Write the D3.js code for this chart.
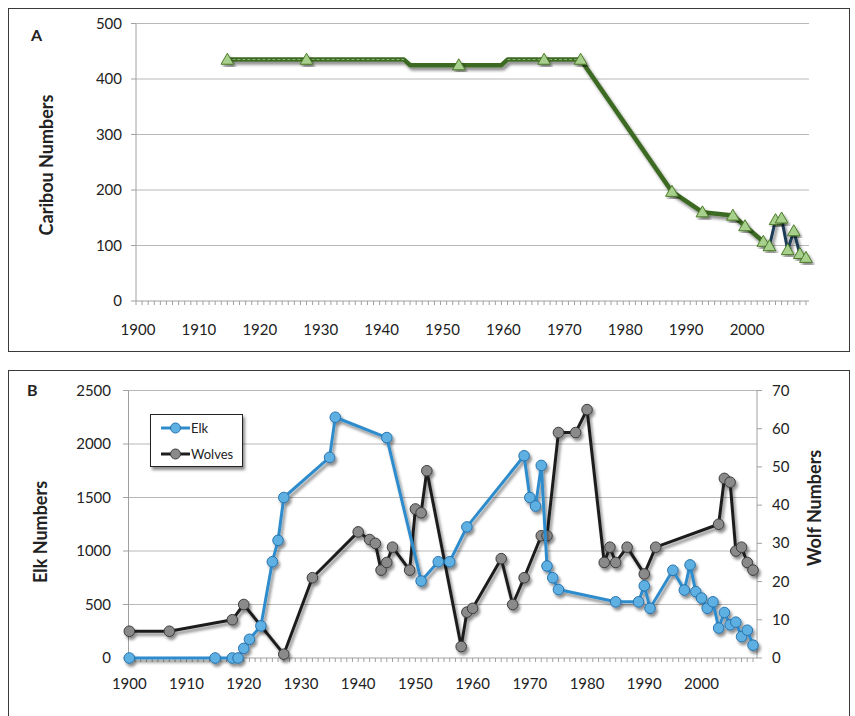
<!DOCTYPE html>
<html>
<head>
<meta charset="utf-8">
<script src="https://cdn.jsdelivr.net/npm/d3@7"></script>
<style>
  body { margin: 0; background: #fff; }
  svg text { font-family: Lato, "Open Sans", sans-serif; fill: #222; }
  .tick-lbl { font-size: 15px; }
  .ax-title { font-size: 18px; font-weight: bold; }
  .panel-lbl { font-size: 16px; font-weight: bold; }
</style>
</head>
<body>
<svg id="chart" width="855" height="716"></svg>
<script>
// ---- panel A: caribou ----
var caribouYears = [1915, 1928, 1944, 1945, 1953, 1960, 1961, 1967, 1973, 1988, 1993, 1998, 2000, 2003, 2004, 2005, 2006, 2007, 2008, 2009, 2010];
var caribouVals  = [435, 435, 435, 425, 425, 425, 435, 435, 435, 197, 160, 154, 135, 107, 99, 146, 149, 92, 126, 85, 78];
// years that carry a survey marker
var caribouMarkYears = [1915, 1928, 1953, 1967, 1973, 1988, 1993, 1998, 2000, 2003, 2004, 2005, 2006, 2007, 2008, 2009, 2010];
var caribouTicks = [0, 100, 200, 300, 400, 500];

// ---- panel B: elk and wolves ----
var elkYears = [1900, 1915, 1918, 1919, 1920, 1921, 1923, 1925, 1926, 1927, 1935, 1936, 1945, 1951, 1954, 1956, 1959, 1969, 1970, 1971, 1972, 1973, 1974, 1975, 1985, 1989, 1990, 1991, 1995, 1997, 1998, 1999, 2000, 2001, 2002, 2003, 2004, 2005, 2006, 2007, 2008, 2009];
var elkVals  = [0, 0, 0, 0, 90, 175, 300, 900, 1100, 1500, 1875, 2250, 2060, 720, 900, 900, 1225, 1890, 1500, 1420, 1800, 860, 750, 640, 525, 525, 675, 465, 820, 635, 870, 620, 560, 465, 525, 280, 425, 310, 335, 200, 260, 120];
var wolfYears = [1900, 1907, 1918, 1920, 1927, 1932, 1940, 1942, 1943, 1944, 1945, 1946, 1949, 1950, 1951, 1952, 1958, 1959, 1960, 1965, 1967, 1969, 1972, 1973, 1975, 1978, 1980, 1983, 1984, 1985, 1987, 1990, 1992, 2003, 2004, 2005, 2006, 2007, 2008, 2009];
var wolfVals  = [7, 7, 10, 14, 1, 21, 33, 31, 30, 23, 25, 29, 23, 39, 38, 49, 3, 12, 13, 26, 14, 21, 32, 32, 59, 59, 65, 25, 29, 25, 29, 22, 29, 35, 47, 46, 28, 29, 25, 23];
var elkTicks  = [0, 500, 1000, 1500, 2000, 2500];
var wolfTicks = [0, 10, 20, 30, 40, 50, 60, 70];

var yearLabels = [1900, 1910, 1920, 1930, 1940, 1950, 1960, 1970, 1980, 1990, 2000];

var svg = d3.select("#chart");

var defs = svg.append("defs");
var f = defs.append("filter").attr("id", "shadow")
    .attr("x", "-20%").attr("y", "-20%").attr("width", "140%").attr("height", "140%");
f.append("feDropShadow").attr("dx", 2).attr("dy", 3).attr("stdDeviation", 1.6)
    .attr("flood-color", "#000").attr("flood-opacity", 0.45);

// frames
svg.append("rect").attr("x", 8.5).attr("y", 8.5).attr("width", 841).attr("height", 343)
    .attr("fill", "none").attr("stroke", "#3a3a3a");
svg.append("rect").attr("x", 8.5).attr("y", 370.5).attr("width", 841).attr("height", 370)
    .attr("fill", "none").attr("stroke", "#3a3a3a");

// ================= PANEL A =================
var xA = d3.scaleLinear().domain([1900, 2010.5]).range([136, 809]);
var yA = d3.scaleLinear().domain([0, 500]).range([301, 23.5]);
var gA = svg.append("g");

gA.selectAll(".gridA").data(caribouTicks.slice(1)).enter().append("line")
    .attr("x1", 136).attr("x2", 809)
    .attr("y1", function (d) { return yA(d); }).attr("y2", function (d) { return yA(d); })
    .attr("stroke", "#b8b8b8").attr("stroke-width", 1);

// left axis
gA.append("line").attr("x1", 136).attr("x2", 136).attr("y1", yA(500)).attr("y2", yA(0))
    .attr("stroke", "#a0a0a0");
gA.selectAll(".ytA").data(caribouTicks).enter().append("line")
    .attr("x1", 131).attr("x2", 136)
    .attr("y1", function (d) { return yA(d); }).attr("y2", function (d) { return yA(d); })
    .attr("stroke", "#a0a0a0");
gA.selectAll(".ylA").data(caribouTicks).enter().append("text")
    .attr("class", "tick-lbl").attr("text-anchor", "end")
    .attr("x", 122).attr("y", function (d) { return yA(d) + 5; })
    .text(function (d) { return d; });

// bottom axis with yearly minor ticks
gA.append("line").attr("x1", 136).attr("x2", 809).attr("y1", yA(0)).attr("y2", yA(0))
    .attr("stroke", "#a0a0a0");
gA.selectAll(".mtA").data(d3.range(1900, 2011)).enter().append("line")
    .attr("x1", function (d) { return xA(d); }).attr("x2", function (d) { return xA(d); })
    .attr("y1", yA(0)).attr("y2", yA(0) + 4)
    .attr("stroke", "#a0a0a0");
gA.selectAll(".xlA").data(yearLabels).enter().append("text")
    .attr("class", "tick-lbl").attr("text-anchor", "middle")
    .attr("x", function (d) { return xA(d) + 2; }).attr("y", 335)
    .text(function (d) { return d; });

gA.append("text").attr("class", "panel-lbl").attr("x", 31).attr("y", 41).text("A");
gA.append("text").attr("class", "ax-title").attr("text-anchor", "middle")
    .attr("transform", "translate(53,165) rotate(-90)").text("Caribou Numbers");

var carib = caribouYears.map(function (y, i) { return { year: y, val: caribouVals[i] }; });
var lineA = d3.line().x(function (d) { return xA(d.year); }).y(function (d) { return yA(d.val); });

var greenPart = carib.filter(function (d) { return d.year <= 2004; });
var navyPart = carib.filter(function (d) { return d.year >= 2004; });

gA.append("path").datum(greenPart).attr("d", lineA)
    .attr("fill", "none").attr("stroke", "#3d6b22").attr("stroke-width", 4.5)
    .attr("stroke-linejoin", "round").attr("filter", "url(#shadow)");
gA.append("path").datum(navyPart).attr("d", lineA)
    .attr("fill", "none").attr("stroke", "#1c3b55").attr("stroke-width", 3)
    .attr("stroke-linejoin", "round").attr("filter", "url(#shadow)");

// light dashed core on the flat 435 stretches
for (var i = 0; i < carib.length - 1; i++) {
    if (carib[i].val === 435 && carib[i + 1].val === 435) {
        gA.append("path").datum([carib[i], carib[i + 1]]).attr("d", lineA)
            .attr("fill", "none").attr("stroke", "#8fb573").attr("stroke-width", 1)
            .attr("stroke-dasharray", "3,2");
    }
}

var marks = carib.filter(function (d) { return caribouMarkYears.indexOf(d.year) >= 0; });
var tri = d3.symbol().type(d3.symbolTriangle).size(70);
gA.selectAll(".tri").data(marks).enter().append("path")
    .attr("d", tri)
    .attr("transform", function (d) { return "translate(" + xA(d.year) + "," + (yA(d.val) + 1) + ")"; })
    .attr("fill", "#a8d08d").attr("stroke", "#4b7a2a").attr("stroke-width", 1)
    .attr("filter", "url(#shadow)");

// ================= PANEL B =================
var xB = d3.scaleLinear().domain([1900, 2009.7]).range([129.3, 757]);
var yE = d3.scaleLinear().domain([0, 2500]).range([658, 390.5]);
var yW = d3.scaleLinear().domain([0, 70]).range([658, 390.5]);
var gB = svg.append("g");

gB.selectAll(".gridB").data(elkTicks.slice(1)).enter().append("line")
    .attr("x1", 128.5).attr("x2", 757)
    .attr("y1", function (d) { return yE(d); }).attr("y2", function (d) { return yE(d); })
    .attr("stroke", "#b8b8b8");

gB.append("line").attr("x1", 128.5).attr("x2", 128.5).attr("y1", yE(2500)).attr("y2", yE(0)).attr("stroke", "#a0a0a0");
gB.append("line").attr("x1", 757).attr("x2", 757).attr("y1", yW(70)).attr("y2", yW(0)).attr("stroke", "#a0a0a0");
gB.append("line").attr("x1", 128.5).attr("x2", 757).attr("y1", yE(0)).attr("y2", yE(0)).attr("stroke", "#a0a0a0");

gB.selectAll(".ytE").data(elkTicks).enter().append("line")
    .attr("x1", 123).attr("x2", 128.5)
    .attr("y1", function (d) { return yE(d); }).attr("y2", function (d) { return yE(d); })
    .attr("stroke", "#a0a0a0");
gB.selectAll(".ylE").data(elkTicks).enter().append("text")
    .attr("class", "tick-lbl").attr("text-anchor", "end")
    .attr("x", 111).attr("y", function (d) { return yE(d) + 5; })
    .text(function (d) { return d; });

gB.selectAll(".ytW").data(wolfTicks).enter().append("line")
    .attr("x1", 757).attr("x2", 762)
    .attr("y1", function (d) { return yW(d); }).attr("y2", function (d) { return yW(d); })
    .attr("stroke", "#a0a0a0");
gB.selectAll(".ylW").data(wolfTicks).enter().append("text")
    .attr("class", "tick-lbl").attr("text-anchor", "start")
    .attr("x", 772).attr("y", function (d) { return yW(d) + 5; })
    .text(function (d) { return d; });

gB.selectAll(".mtB").data(d3.range(1900, 2010)).enter().append("line")
    .attr("x1", function (d) { return xB(d); }).attr("x2", function (d) { return xB(d); })
    .attr("y1", yE(0)).attr("y2", yE(0) + 4)
    .attr("stroke", "#a0a0a0");
gB.selectAll(".xlB").data(yearLabels).enter().append("text")
    .attr("class", "tick-lbl").attr("text-anchor", "middle")
    .attr("x", function (d) { return xB(d); }).attr("y", 689)
    .text(function (d) { return d; });

gB.append("text").attr("class", "panel-lbl").attr("x", 27).attr("y", 396).text("B");
gB.append("text").attr("class", "ax-title").attr("text-anchor", "middle")
    .attr("transform", "translate(47,532) rotate(-90)").text("Elk Numbers");
gB.append("text").attr("class", "ax-title").attr("text-anchor", "middle")
    .attr("transform", "translate(821,508) rotate(-90)").text("Wolf Numbers");

var elk = elkYears.map(function (y, i) { return { year: y, val: elkVals[i] }; });
var wolves = wolfYears.map(function (y, i) { return { year: y, val: wolfVals[i] }; });

var lineE = d3.line().x(function (d) { return xB(d.year); }).y(function (d) { return yE(d.val); });
var lineW = d3.line().x(function (d) { return xB(d.year); }).y(function (d) { return yW(d.val); });

function drawSeries(data, line, yScale, stroke, fill, edge) {
    var g = gB.append("g").attr("filter", "url(#shadow)");
    g.append("path").datum(data).attr("d", line)
        .attr("fill", "none").attr("stroke", stroke).attr("stroke-width", 3)
        .attr("stroke-linejoin", "round");
    g.selectAll("circle").data(data).enter().append("circle")
        .attr("cx", function (d) { return xB(d.year); })
        .attr("cy", function (d) { return yScale(d.val); })
        .attr("r", 5.3)
        .attr("fill", fill).attr("stroke", edge).attr("stroke-width", 1);
}
drawSeries(wolves, lineW, yW, "#1e1e1e", "#8a8a8a", "#3a3a3a");
drawSeries(elk, lineE, yE, "#2f8ccc", "#5eb0e2", "#2672ad");

// legend
var lg = gB.append("g");
lg.append("rect").attr("x", 150.5).attr("y", 414.5).attr("width", 92).attr("height", 52)
    .attr("fill", "#fff").attr("stroke", "#222").attr("filter", "url(#shadow)");
var legendItems = [
    { name: "Elk", stroke: "#2f8ccc", fill: "#5eb0e2", edge: "#2672ad", y: 428 },
    { name: "Wolves", stroke: "#1e1e1e", fill: "#8a8a8a", edge: "#3a3a3a", y: 454 }
];
legendItems.forEach(function (it) {
    lg.append("line").attr("x1", 161).attr("x2", 190).attr("y1", it.y).attr("y2", it.y)
        .attr("stroke", it.stroke).attr("stroke-width", 3);
    lg.append("circle").attr("cx", 175.5).attr("cy", it.y).attr("r", 5)
        .attr("fill", it.fill).attr("stroke", it.edge);
    lg.append("text").attr("x", 191).attr("y", it.y + 5).style("font-size", "13px").text(it.name);
});
</script>
</body>
</html>
